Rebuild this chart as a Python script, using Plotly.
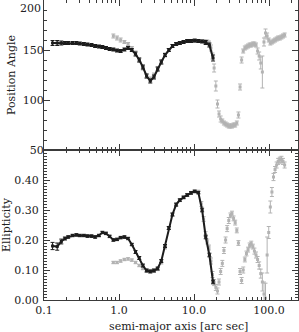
import plotly.graph_objects as go
from plotly.subplots import make_subplots

# ---- Series A (dark, inner fit) ----
r_a = [0.13, 0.15, 0.17, 0.19, 0.21, 0.24, 0.27, 0.30, 0.34, 0.38, 0.43, 0.48, 0.54, 0.60,
       0.67, 0.75, 0.84, 0.94, 1.05, 1.18, 1.32, 1.48, 1.66, 1.86, 2.08, 2.33, 2.61, 2.92,
       3.27, 3.66, 4.1, 4.6, 5.15, 5.77, 6.46, 7.24, 8.1, 9.1, 10.2, 11.4, 12.8, 14.3, 16.0, 17.9]
pa_a = [157, 157, 157, 157, 157, 157, 157, 156.5, 156, 155.5, 155, 154, 153.5, 153,
        152, 151, 150.5, 149.5, 149, 150.5, 152, 150, 146, 140, 133, 124, 119, 123,
        131, 138, 145, 150, 154, 156, 157, 158, 159, 159, 159.5, 159, 158.5, 157.5, 155, 142]
pa_a_err = [2.5, 2.5, 2, 1.5, 1.5, 1.5, 1.5, 1.5, 1.5, 1.5, 1.5, 1.5, 1.5, 1.5,
            1.5, 1.5, 1.5, 1.5, 1.5, 1.5, 1.5, 1.5, 2, 2, 2, 2, 2, 2,
            2, 2, 1.5, 1.5, 1.5, 1.5, 1.5, 1.5, 1.5, 1.5, 1.5, 1.5, 1.5, 2, 2, 3]
e_a = [0.18, 0.178, 0.195, 0.205, 0.21, 0.215, 0.217, 0.215, 0.215, 0.213, 0.213, 0.21, 0.215, 0.225,
       0.222, 0.212, 0.20, 0.202, 0.208, 0.21, 0.205, 0.185, 0.16, 0.14, 0.115, 0.098, 0.095, 0.098,
       0.105, 0.13, 0.18, 0.24, 0.285, 0.318, 0.333, 0.342, 0.35, 0.357, 0.362, 0.358, 0.30, 0.21, 0.15, 0.06]
e_a_err = [0.012, 0.012, 0.008, 0.005, 0.004, 0.004, 0.004, 0.004, 0.004, 0.004, 0.004, 0.004, 0.004, 0.004,
           0.004, 0.004, 0.004, 0.004, 0.004, 0.004, 0.004, 0.004, 0.005, 0.005, 0.005, 0.005, 0.005, 0.005,
           0.005, 0.005, 0.005, 0.005, 0.005, 0.005, 0.004, 0.004, 0.004, 0.004, 0.004, 0.004, 0.006, 0.006, 0.006, 0.006]

# ---- Series B (grey, outer fit) ----
r_b = [0.84, 0.94, 1.05, 1.18, 1.32, 1.48, 1.66, 1.86, 2.08, 2.33, 2.61, 2.92, 3.27, 3.66,
       4.1, 4.6, 5.15, 5.77, 6.46, 7.24, 8.1, 9.1, 10.2, 11.4,
       12.5, 13.4, 14.2, 15.0, 15.8, 16.8, 17.6, 18.5, 19.5, 20.5, 21.5, 22.6, 23.8, 25.0,
       26.3, 27.6, 29.0, 30.5, 32.0, 33.6, 35.3, 37.1, 39.0, 41.0, 43.0, 45.2, 47.5, 49.9,
       52.4, 55.0, 57.8, 60.7, 63.7, 66.9, 70.2, 73.7, 77.4, 81.3, 85.4, 89.6, 94.1, 98.8,
       103.8, 109, 114.4, 120, 126, 132, 139, 146, 153, 161]
pa_b = [164, 162, 160, 158, 156, 152, 147, 140, 132, 124, 121, 125, 131, 138,
        145, 150, 154, 156, 157, 158, 159, 159, 159, 159,
        159, 159, 158, 158, 157, 152, 144, 132, 114, 96, 86, 81, 79, 77,
        76, 75, 74, 74, 74, 75, 75, 77, 85, 113, 140, 149, 152, 153,
        154, 155, 155, 156, 156, 155, 149, 144, 137, 128, 158, 167, 164, 160,
        157, 158, 159, 160, 161, 162, 162, 163, 164, 165]
pa_b_err = [2, 2, 2, 1.5, 1.5, 1.5, 2, 2, 2, 2, 2, 2, 2, 2,
            2, 1.5, 1.5, 1.5, 1.5, 1.5, 1.5, 1.5, 1.5, 1.5,
            1.5, 1.5, 2, 2, 2, 3, 3, 4, 5, 4, 3, 3, 2, 2,
            2, 2, 2, 2, 2, 2, 2, 2, 3, 3, 3, 2, 2, 2,
            2, 2, 2, 2, 2, 2, 3, 4, 6, 16, 4, 4, 3, 2,
            2, 2, 2, 2, 2, 2, 2, 2, 2, 2]
e_b = [0.125, 0.125, 0.13, 0.135, 0.137, 0.133, 0.125, 0.115, 0.105, 0.10, 0.098, 0.10, 0.103, 0.125,
       0.175, 0.24, 0.285, 0.318, 0.333, 0.342, 0.35, 0.357, 0.362, 0.36,
       0.32, 0.27, 0.22, 0.195, 0.175, 0.13, 0.085, 0.058, 0.042, 0.03, 0.06, 0.095, 0.122, 0.165,
       0.20, 0.238, 0.265, 0.282, 0.288, 0.272, 0.258, 0.232, 0.19, 0.095, 0.065, 0.10, 0.135, 0.155,
       0.168, 0.182, 0.188, 0.178, 0.163, 0.15, 0.135, 0.115, 0.088, 0.06, 0.02, 0.006, 0.15, 0.225,
       0.31, 0.36, 0.41, 0.435, 0.45, 0.462, 0.466, 0.469, 0.462, 0.45]
e_b_err = [0.004, 0.004, 0.004, 0.004, 0.004, 0.004, 0.004, 0.004, 0.004, 0.004, 0.004, 0.004, 0.005, 0.005,
           0.005, 0.005, 0.005, 0.005, 0.005, 0.005, 0.005, 0.005, 0.005, 0.006,
           0.008, 0.008, 0.008, 0.008, 0.008, 0.01, 0.01, 0.01, 0.01, 0.01, 0.01, 0.01, 0.01, 0.01,
           0.01, 0.01, 0.01, 0.008, 0.008, 0.008, 0.008, 0.008, 0.008, 0.01, 0.01, 0.01, 0.008, 0.008,
           0.008, 0.008, 0.008, 0.008, 0.01, 0.01, 0.01, 0.012, 0.015, 0.03, 0.04, 0.05, 0.06, 0.02,
           0.02, 0.015, 0.012, 0.01, 0.01, 0.01, 0.01, 0.01, 0.01, 0.01]

x_tickvals = [0.1, 1, 10, 100]
x_ticktext = ["0.1", "1.0", "10.0", "100.0"]
pa_tickvals = [50, 100, 150, 200]
pa_ticktext = ["50", "100", "150", ""]
e_tickvals = [0.0, 0.1, 0.2, 0.3, 0.4]
e_ticktext = ["0.00", "0.10", "0.20", "0.30", "0.40"]

GREY = "#b3b3b3"
DARK = "#1c1c1c"
AX = "#3a3a3a"
TXT = "#222"
FONT = "DejaVu Serif"

fig = make_subplots(rows=2, cols=1, shared_xaxes=True, vertical_spacing=0)

def add(r, v, err, color, row, msize, lw):
    fig.add_trace(go.Scatter(
        x=r, y=v, mode="lines+markers" if lw > 0 else "markers",
        line=dict(color=color, width=lw),
        marker=dict(color=color, size=msize, symbol="square"),
        error_y=dict(type="data", array=err, color=color, thickness=1, width=2),
        showlegend=False, hoverinfo="skip"), row=row, col=1)

add(r_b, pa_b, pa_b_err, GREY, 1, 3, 0)
add(r_a, pa_a, pa_a_err, DARK, 1, 3, 2)
add(r_b, e_b, e_b_err, GREY, 2, 3, 0)
add(r_a, e_a, e_a_err, DARK, 2, 3, 2)

minor_x = [k * 10 ** p for p in (-1, 0, 1) for k in range(2, 10)] + [200]

common = dict(showline=True, linecolor=AX, linewidth=1, mirror="ticks", ticks="inside",
              ticklen=6, tickcolor=AX, tickwidth=1, showgrid=False, zeroline=False,
              automargin=False, tickfont=dict(family=FONT, size=11, color=TXT))

fig.update_xaxes(type="log", range=[-1, 2.385], tickvals=x_tickvals, ticktext=x_ticktext,
                 minor=dict(tickvals=minor_x, ticks="inside", ticklen=3, tickcolor=AX),
                 **common)
fig.update_xaxes(showticklabels=False, row=1, col=1)
fig.update_yaxes(range=[50, 200], tickvals=pa_tickvals, ticktext=pa_ticktext,
                 minor=dict(dtick=10, ticks="inside", ticklen=3, tickcolor=AX),
                 title=dict(text="Position Angle", font=dict(family=FONT, size=11, color=TXT), standoff=4),
                 row=1, col=1, ticklabelstandoff=-3, **common)
fig.update_yaxes(range=[0, 0.5], tickvals=e_tickvals, ticktext=e_ticktext,
                 minor=dict(dtick=0.01, ticks="inside", ticklen=3, tickcolor=AX),
                 title=dict(text="Ellipticity", font=dict(family=FONT, size=11, color=TXT), standoff=4),
                 row=2, col=1, ticklabelstandoff=2, **common)

fig.add_annotation(text="200", xref="paper", yref="paper", x=-0.004, y=1.0,
                   xanchor="right", yanchor="top", showarrow=False,
                   font=dict(family=FONT, size=11, color=TXT))
fig.add_annotation(text="semi-major axis [arc sec]", xref="paper", yref="paper",
                   x=0.531, y=-0.087, xanchor="center", yanchor="middle", showarrow=False,
                   font=dict(family=FONT, size=11, color=TXT))

fig.update_layout(width=299, height=332, margin=dict(l=44, r=1, t=0, b=32),
                  plot_bgcolor="white", paper_bgcolor="white", showlegend=False,
                  hovermode=False,
                  font=dict(family=FONT, size=11, color=TXT))

fig.write_html("out.html", config={"displayModeBar": False},
               post_script="document.body.style.margin='0';document.body.style.padding='0';")
